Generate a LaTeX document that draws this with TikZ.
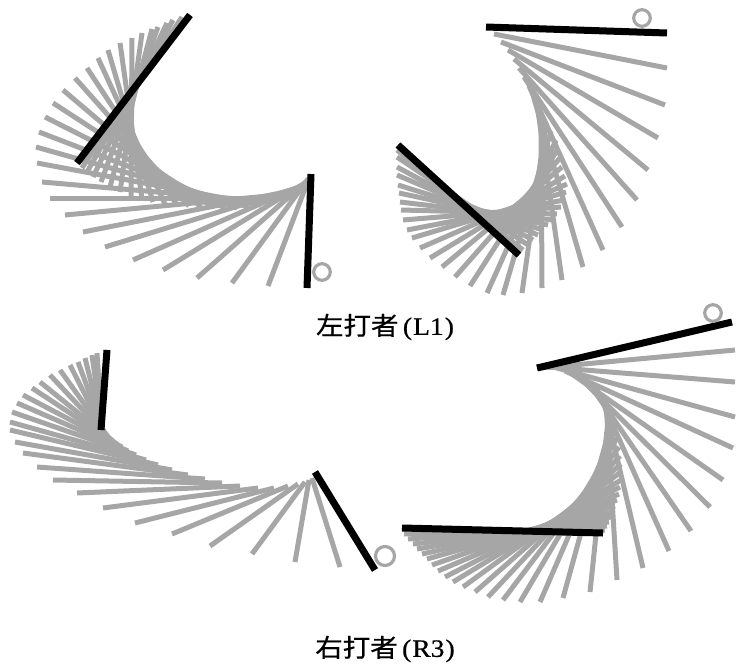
\documentclass[tikz,border=0pt]{standalone}
\usepackage{fontspec}
\setmainfont[FakeBold=0.6]{Liberation Serif}
\newfontfamily\cjkfont[FakeBold=0.6]{Noto Sans CJK JP}
\definecolor{bargray}{RGB}{166,166,166}
\tikzset{
  graybar/.style={draw=bargray, line width=5pt, line cap=butt},
  blackbar/.style={draw=black, line width=7pt, line cap=butt},
  ball/.style={draw=bargray, line width=3.2pt, fill=none},
  caption/.style={font=\fontsize{25}{30}\selectfont, inner sep=0pt, xscale=1.1}
}
\begin{document}
\begin{tikzpicture}[x=1pt,y=-1pt]
\useasboundingbox (0,0) rectangle (736,664);
% ---------- panel 1 (top left) ----------
\foreach \ox/\oy/\hx/\hy in {190/15/77/163,182/17/82/168,173/20/87/172,167/23/93/177,158/27/101/182,152/29/110/187,142/33/120/192,132/38/131/196,120/43/142/199,108/50/153/202,98/58/165/204,87/68/177/205,75/78/189/206,63/90/201/207,53/103/213/207,45/117/225/208,39/132/237/208,36/147/249/207,37/163/261/205,42/182/272/202,50/198/282/198,65/215/290/194,83/232/296/190,105/247/300/187,133/260/303/185,163/270/305/183,197/278/307/181,232/283/308/179,268/286/309/178}
  \draw[graybar] (\ox,\oy) -- (\hx,\hy);
\draw[blackbar] (190,15) -- (77,163);
\draw[blackbar] (311,174) -- (307,288);
\draw[ball] (322,272) circle (8.3);
% ---------- panel 2 (top right) ----------
\foreach \ox/\oy/\hx/\hy in {398/145/519/255,397/150/523/250,397/157/528/245,397/167/533/240,397/175/538/235,398/185/543/230,399/193/548/225,400/202/553/220,401/210/557/214,403/220/561/207,407/230/564/200,412/238/566/192,420/248/567/184,430/258/565/176,442/267/562/167,455/277/560/158,470/286/558/149,487/293/556/140,503/295/551/131,522/293/546/122,542/288/541/113,562/280/537/104,583/267/533/95,603/250/529/86,622/227/524/77,637/200/519/68,648/170/514/59,658/138/508/50,665/105/501/42,667/68/494/34}
  \draw[graybar] (\ox,\oy) -- (\hx,\hy);
\draw[blackbar] (398,145) -- (519,255);
\draw[blackbar] (486,27) -- (667,33);
\draw[ball] (642,18) circle (8.3);
% ---------- panel 3 (bottom left) ----------
\foreach \ox/\oy/\hx/\hy in {107/350/101/430,97/353/102/432,92/355/103/433,85/358/104/434,78/362/105/435,70/365/106/436,60/370/108/437,50/375/110/439,40/382/113/441,32/388/117/444,23/395/122/447,17/403/128/451,12/412/136/455,10/422/146/460,10/430/158/465,15/442/172/470,23/453/188/475,37/467/205/479,53/480/222/483,77/493/240/486,103/508/258/488,135/523/274/488,172/534/288/486,210/546/298/484,252/554/305/482,295/562/309/480,340/567/312/478}
  \draw[graybar] (\ox,\oy) -- (\hx,\hy);
\draw[blackbar] (107,350) -- (101,430);
\draw[blackbar] (315,472) -- (375,570);
\draw[ball] (385,556) circle (9.5);
% ---------- panel 4 (bottom right) ----------
\foreach \ox/\oy/\hx/\hy in {402/528/603/533,404/534/605/530,408/539/607/526,413/544/609/522,417/549/611/517,422/554/613/512,427/559/615/506,432/565/617/500,438/571/619/494,445/577/620/487,453/582/621/480,463/587/621/472,475/592/621/464,488/597/620/456,503/600/619/447,520/602/617/438,540/602/615/429,563/598/612/420,590/592/609/411,617/580/606/402,643/568/602/394,669/551/596/387,691/531/588/382,710/507/580/378,723/480/572/374,733/448/565/371,735/417/557/368,735/382/547/367,735/350/541/368}
  \draw[graybar] (\ox,\oy) -- (\hx,\hy);
\draw[blackbar] (402,528) -- (603,533);
\draw[blackbar] (537,368) -- (732,322);
\draw[ball] (713,313) circle (8.3);
% ---------- captions ----------
\node[caption] (capL) at (385,327) {{\cjkfont 左打者}\hspace{4pt}(\hspace{1pt}L1\hspace{1pt})};
\node[caption] (capR) at (385,649) {{\cjkfont 右打者}\hspace{4pt}(\hspace{1pt}R3\hspace{1pt})};
\end{tikzpicture}
\end{document}
